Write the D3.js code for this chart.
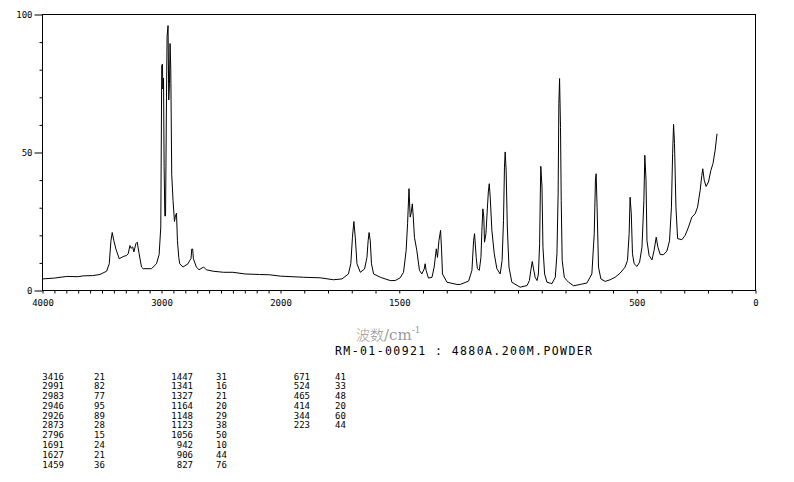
<!DOCTYPE html>
<html>
<head>
<meta charset="utf-8">
<script src="https://cdn.jsdelivr.net/npm/d3@7"></script>
<style>
  body { margin: 0; background: #fff; }
  svg { display: block; }
</style>
</head>
<body>
<div id="chart"></div>
<script>
// Raman spectrum (wavenumber cm-1 / intensity)
const specWn = [4000, 3900, 3796, 3700, 3657, 3580, 3517, 3461, 3439, 3425, 3414, 3400, 3383, 3355, 3322, 3293, 3280,
    3265, 3255, 3243, 3232, 3215, 3204, 3188, 3168, 3154, 3084, 3042, 3020, 3006, 2998, 2992, 2989, 2983, 2978,
    2972, 2966, 2958, 2953, 2945, 2939, 2933, 2928, 2922, 2914, 2903, 2891, 2883, 2874, 2866, 2855, 2847, 2819,
    2777, 2763, 2752, 2746, 2738, 2732, 2707, 2685, 2646, 2623, 2568, 2480, 2400, 2300, 2177, 2093, 2000, 1903,
    1833, 1777, 1741, 1714, 1704, 1697, 1691, 1685, 1678, 1664, 1646, 1636, 1631, 1627, 1622, 1617, 1608, 1580,
    1538, 1517, 1496, 1482, 1471, 1465, 1459, 1454, 1450, 1445, 1441, 1436, 1426, 1415, 1405, 1395, 1391, 1387,
    1377, 1362, 1353, 1344, 1339, 1333, 1326, 1322, 1318, 1299, 1257, 1243, 1208, 1194, 1187, 1183, 1176, 1171,
    1163, 1156, 1152, 1148, 1144, 1141, 1135, 1131, 1125, 1121, 1117, 1110, 1100, 1089, 1075, 1067, 1061, 1057,
    1054, 1050, 1045, 1038, 1026, 991, 962, 952, 946, 940, 935, 928, 920, 914, 909, 906, 904, 899, 895, 888, 878,
    857, 843, 836, 831, 828, 825, 821, 818, 814, 805, 794, 787, 766, 738, 710, 689, 679, 674, 671, 667, 661, 651,
    633, 612, 591, 570, 549, 539, 532, 528, 523, 518, 511, 499, 488, 478, 470, 466, 461, 457, 448, 436, 427, 418,
    411, 401, 387, 373, 362, 354, 349, 345, 341, 335, 328, 310, 296, 282, 268, 254, 244, 233, 226, 222, 216, 208,
    198, 188, 179, 170, 162]
const specInt = [4.2, 4.5, 5.1, 5.0, 5.3, 5.4, 5.8, 7.0, 9.7, 18, 21, 18, 15, 11.5, 12.3, 12.7, 13.3,
    16.3, 15.3, 15.8, 14, 17, 17.5, 13.3, 8.5, 7.9, 7.9, 9.7, 13, 23, 81.6, 82, 73, 77, 45,
    27, 27, 70, 92, 96, 69, 75, 89.5, 80, 42, 32.6, 25, 27, 28, 18, 12, 9.7, 8.5,
    9.7, 10.9, 11.5, 15, 15, 11.5, 8.5, 7.5, 8.5, 7.5, 7.0, 6.6, 6.6, 6.0, 5.8, 5.7, 5.2, 4.8,
    4.6, 3.9, 4.2, 6.0, 9.7, 19.3, 25, 19, 9.7, 6.6, 7.8, 12, 18, 21, 18, 9.7, 6.0, 4.8,
    3.6, 3.6, 4.6, 6.6, 14.5, 24.2, 36.9, 26.6, 28, 31.4, 26.6, 19.3, 14.5, 7.3, 6.0, 7.8, 9.7, 7.3,
    4.5, 4.8, 8.5, 15.1, 12, 18, 21.8, 15, 6, 3.0, 2.2, 2.2, 3.4, 7.3, 18, 20.6, 12, 7.9,
    7.3, 12, 21.8, 29.6, 26.6, 17.5, 20.6, 26.6, 35.7, 38.7, 33.8, 21.8, 13.3, 7.9, 6.0, 10.9, 25.4, 44.7,
    50.2, 43.5, 23, 8.5, 3.0, 1.2, 1.8, 3.6, 7.3, 10.5, 8.1, 4.8, 3.6, 6, 17, 35, 45, 37.5, 15.7, 6, 3.0,
    2.5, 4.8, 13.3, 35, 67.7, 76.8, 59, 32.6, 10.9, 4.8, 3.6, 3.0, 1.7, 2.2, 2.7, 6.0, 20.6, 40, 42.3, 30.2, 8.5, 4.2,
    3.3, 3.9, 4.8, 6.3, 8.5, 10.9, 20.6, 33.8, 27.8, 13.3, 9.7, 8.7, 10.3, 15.7, 32.6, 49, 40, 18, 12.7, 11.1, 14.5, 19.3,
    15.7, 13, 13, 14.3, 18, 30.2, 49.6, 60.2, 53.2, 30.2, 18.8, 18.4, 20, 23, 26.6, 27.8, 30.2, 36.3, 41.7, 44.1, 40, 37.7,
    39.3, 43.5, 46, 50.8, 56.8]

// peak table printed under the chart
const peakWn = [3416, 2991, 2983, 2946, 2926, 2873, 2796, 1691, 1627, 1459,
    1447, 1341, 1327, 1164, 1148, 1123, 1056, 942, 906, 827,
    671, 524, 465, 414, 344, 223]
const peakInt = [21, 82, 77, 95, 89, 28, 15, 24, 21, 36,
    31, 16, 21, 20, 29, 38, 50, 10, 44, 76,
    41, 33, 48, 20, 60, 44]

const xTickLabels = [4000, 3000, 2000, 1500, 500, 0]
const yTickLabels = [0, 50, 100]
const xTitle = "波数"
const xUnit = "/cm"
const sampleTitle = "RM-01-00921 : 4880A.200M.POWDER"

const width = 794, height = 482
const mono = "'DejaVu Sans Mono', 'Liberation Mono', monospace"

var svg = d3.select("#chart").append("svg")
    .attr("width", width)
    .attr("height", height)

// x axis changes scale at 2000 cm-1
var xScale = d3.scaleLinear().domain([4000, 2000, 0]).range([42.5, 280.5, 755.5])
var yScale = d3.scaleLinear().domain([0, 100]).range([290.5, 14.5])

// frame
svg.append("rect")
    .attr("x", xScale(4000)).attr("y", yScale(100))
    .attr("width", xScale(0) - xScale(4000))
    .attr("height", yScale(0) - yScale(100))
    .attr("fill", "none").attr("stroke", "#000").attr("stroke-width", 1)

// x axis: tick every 100, labels only on a few
var xAxis = d3.axisBottom(xScale)
    .tickValues(d3.range(0, 4001, 100))
    .tickSize(3)
    .tickSizeOuter(0)
    .tickPadding(6)
    .tickFormat(function (d) { return xTickLabels.includes(d) ? d : "" })

var gx = svg.append("g")
    .attr("transform", "translate(0," + yScale(0) + ")")
    .call(xAxis)
gx.select(".domain").remove()
gx.selectAll("text").style("font-family", mono).style("font-size", "9px").attr("fill", "#000")
gx.selectAll("line").attr("stroke", "#000")

// y axis: tick every 10, long ticks at the labels
var yAxis = d3.axisLeft(yScale)
    .tickValues(d3.range(0, 101, 10))
    .tickSize(3)
    .tickSizeOuter(0)
    .tickFormat(function (d) { return yTickLabels.includes(d) ? d : "" })

var gy = svg.append("g")
    .attr("transform", "translate(" + xScale(4000) + ",0)")
    .call(yAxis)
gy.select(".domain").remove()
gy.selectAll(".tick")
    .filter(function (d) { return yTickLabels.includes(d) })
    .select("line").attr("x2", -8)
gy.selectAll("text").attr("x", -10).style("font-family", mono).style("font-size", "9px").attr("fill", "#000")
gy.selectAll("line").attr("stroke", "#000")

// spectrum
var line = d3.line()
    .x(function (d, i) { return xScale(specWn[i]) })
    .y(function (d, i) { return yScale(specInt[i]) })

svg.append("path")
    .datum(specWn)
    .attr("d", line)
    .attr("fill", "none")
    .attr("stroke", "#000")
    .attr("stroke-width", 1)
    .attr("stroke-linejoin", "round")

// axis title
var title = svg.append("text")
    .attr("x", 356).attr("y", 340)
    .attr("fill", "#999")
title.append("tspan")
    .style("font-family", "'Noto Sans CJK SC'")
    .style("font-size", "14px")
    .style("font-weight", 300)
    .text(xTitle)
title.append("tspan")
    .style("font-family", "'DejaVu Serif', 'Liberation Serif', serif")
    .style("font-size", "15px")
    .text(xUnit)
title.append("tspan")
    .attr("dy", -7)
    .style("font-family", "'DejaVu Serif', 'Liberation Serif', serif")
    .style("font-size", "9px")
    .text("-1")

svg.append("text")
    .attr("x", 335).attr("y", 354.5)
    .attr("textLength", 257)
    .attr("lengthAdjust", "spacing")
    .style("font-family", mono)
    .style("font-size", "11.5px")
    .attr("fill", "#000")
    .text(sampleTitle)

// peak table, three columns of ten rows
var cols = [
    { wnX: 64, intX: 94 },
    { wnX: 193, intX: 216 },
    { wnX: 310, intX: 335 }
]
var rowH = 9.78, row0 = 379.5

var table = svg.append("g")
    .style("font-family", mono)
    .style("font-size", "9px")
    .attr("fill", "#000")

table.selectAll("text.wn")
    .data(peakWn)
    .enter().append("text")
    .attr("class", "wn")
    .attr("text-anchor", "end")
    .attr("x", function (d, i) { return cols[Math.floor(i / 10)].wnX })
    .attr("y", function (d, i) { return row0 + (i % 10) * rowH })
    .text(function (d) { return d })

table.selectAll("text.int")
    .data(peakInt)
    .enter().append("text")
    .attr("class", "int")
    .attr("x", function (d, i) { return cols[Math.floor(i / 10)].intX })
    .attr("y", function (d, i) { return row0 + (i % 10) * rowH })
    .text(function (d) { return d })
</script>
</body>
</html>
